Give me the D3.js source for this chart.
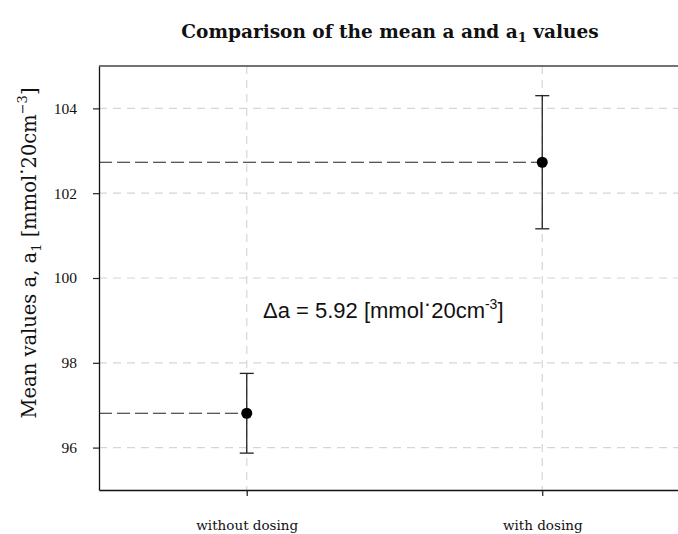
<!DOCTYPE html>
<html>
<head>
<meta charset="utf-8">
<script src="https://cdn.jsdelivr.net/npm/d3@7"></script>
<style>
  html, body { margin: 0; padding: 0; background: #fff; overflow: hidden; }
  svg { display: block; }
</style>
</head>
<body>
<div id="chart"></div>
<script>
// Group labels and their positions on the numeric x axis
const categories = ["without dosing", "with dosing"];
const catPos = [1, 2];
// Mean values and the half-width of each error bar
const means = [96.81, 102.73];
const errors = [0.94, 1.57];
// Y axis tick values
const yTicks = [96, 98, 100, 102, 104];

const W = 678, H = 534;
const margin = { left: 99, top: 66, right: -12, bottom: 44 };

const svg = d3.select("#chart").append("svg")
  .attr("width", W).attr("height", H);

const x = d3.scaleLinear().domain([0.5, 2.5]).range([margin.left, W - margin.right]);
const y = d3.scaleLinear().domain([95, 105]).range([H - margin.bottom, margin.top]);

const serif = "'DejaVu Serif', 'Liberation Serif', serif";
const serifNarrow = "'Liberation Serif', 'DejaVu Serif', serif";
const sans = "'Liberation Sans', Arial, sans-serif";

// Grid lines
const grid = svg.append("g").attr("stroke", "#d6d6d6").attr("stroke-width", 1.2)
  .attr("stroke-dasharray", "8,6");
grid.selectAll("line.h").data(yTicks).join("line")
  .attr("x1", x(0.5)).attr("x2", x(2.5))
  .attr("y1", d => y(d)).attr("y2", d => y(d));
grid.selectAll("line.v").data(catPos).join("line")
  .attr("x1", d => x(d)).attr("x2", d => x(d))
  .attr("y1", y(105)).attr("y2", y(95) + 8);

// Axes
const yAxis = svg.append("g")
  .attr("transform", `translate(${x(0.5)},0)`)
  .call(d3.axisLeft(y).tickValues(yTicks).tickSize(6).tickPadding(16).tickSizeOuter(0));
const xAxis = svg.append("g")
  .attr("transform", `translate(0,${y(95)})`)
  .call(d3.axisBottom(x).tickValues(catPos).tickSize(6).tickPadding(24).tickSizeOuter(0)
    .tickFormat((d, i) => categories[i]));
[yAxis, xAxis].forEach(g => {
  g.select(".domain").attr("stroke", "#111").attr("stroke-width", 1.3);
  g.selectAll(".tick line").attr("stroke", "#222").attr("stroke-width", 1.2);
  g.selectAll(".tick text").attr("fill", "#111");
});
yAxis.selectAll(".tick text").style("font-family", serifNarrow).style("font-size", "15.5px");
xAxis.selectAll(".tick text").style("font-family", serif).style("font-size", "13.5px");

// Top frame line
svg.append("line")
  .attr("x1", x(0.5)).attr("x2", x(2.5))
  .attr("y1", y(105)).attr("y2", y(105))
  .attr("stroke", "#444").attr("stroke-width", 1.3);

// Dashed guides from the y axis to each mean
svg.selectAll("line.guide").data(means).join("line")
  .attr("class", "guide")
  .attr("x1", x(0.5)).attr("x2", (d, i) => x(catPos[i]))
  .attr("y1", d => y(d)).attr("y2", d => y(d))
  .attr("stroke", "#222").attr("stroke-width", 1.2)
  .attr("stroke-dasharray", "13,5");

// Error bars
const eb = svg.append("g").attr("stroke", "#222").attr("stroke-width", 1.3);
means.forEach((m, i) => {
  const cx = x(catPos[i]);
  eb.append("line").attr("x1", cx).attr("x2", cx)
    .attr("y1", y(m - errors[i])).attr("y2", y(m + errors[i]));
  [m - errors[i], m + errors[i]].forEach(v => {
    eb.append("line").attr("x1", cx - 7).attr("x2", cx + 7)
      .attr("y1", y(v)).attr("y2", y(v));
  });
});

// Mean markers
svg.selectAll("circle.mean").data(means).join("circle")
  .attr("class", "mean")
  .attr("cx", (d, i) => x(catPos[i])).attr("cy", d => y(d))
  .attr("r", 5.5).attr("fill", "#000");

// Title
const title = svg.append("text")
  .attr("x", 390).attr("y", 38).attr("text-anchor", "middle")
  .style("font-family", serif).style("font-weight", "bold").style("font-size", "18.5px")
  .attr("fill", "#111");
title.append("tspan").text("Comparison of the mean a and a");
title.append("tspan").attr("dy", 4).style("font-size", "13px").text("1");
title.append("tspan").attr("dy", -4).text(" values");

// Y axis label
const yl = svg.append("text")
  .attr("transform", `translate(36,${253}) rotate(-90)`)
  .attr("text-anchor", "middle")
  .style("font-family", serif).style("font-size", "19.5px").attr("fill", "#111");
yl.append("tspan").text("Mean values a, a");
yl.append("tspan").attr("dy", 5).style("font-size", "13px").text("1");
yl.append("tspan").attr("dy", -5).text(" [mmol");
yl.append("tspan").attr("dy", -7).text("·");
yl.append("tspan").attr("dy", 7).text("20cm");
yl.append("tspan").attr("dy", -9).style("font-size", "13px").text("−3");
yl.append("tspan").attr("dy", 9).text("]");

// Difference annotation
const diff = means[1] - means[0];
const ann = svg.append("text")
  .attr("x", 263).attr("y", 318)
  .style("font-family", sans).style("font-size", "22px").attr("fill", "#111");
ann.append("tspan").text(`Δa = ${diff.toFixed(2)} [mmol`);
ann.append("tspan").attr("dy", -7).text("·");
ann.append("tspan").attr("dy", 7).text("20cm");
ann.append("tspan").attr("dy", -9).style("font-size", "14px").text("-3");
ann.append("tspan").attr("dy", 9).text("]");
</script>
</body>
</html>
